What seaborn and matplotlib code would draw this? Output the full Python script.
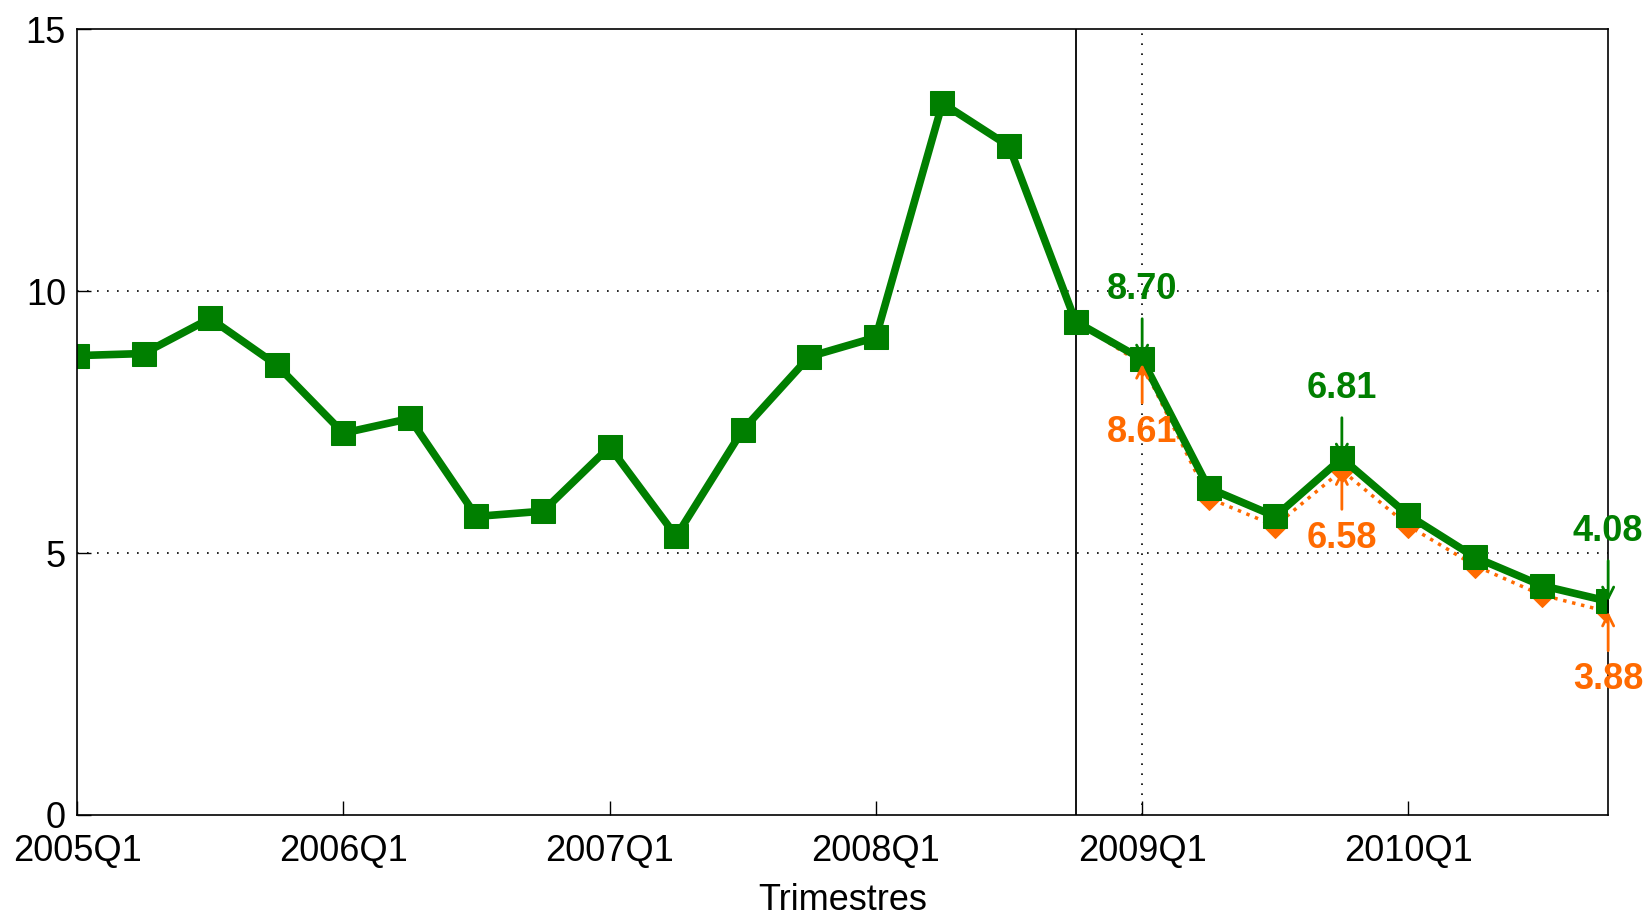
import numpy as np
import pandas as pd
import matplotlib
matplotlib.use('Agg')
import matplotlib.pyplot as plt
import seaborn as sns

# quarters 2005Q1 .. 2010Q4
quarters = [f'{y}Q{q}' for y in range(2005, 2011) for q in range(1, 5)]

green_vals = [8.77, 8.81, 9.48, 8.59, 7.29, 7.57, 5.70, 5.80, 7.03, 5.32, 7.35, 8.75,
              9.12, 13.59, 12.77, 9.42, 8.70, 6.24, 5.70, 6.81, 5.72, 4.92, 4.38, 4.08]
orange_vals = [8.77, 8.81, 9.48, 8.59, 7.29, 7.57, 5.70, 5.80, 7.03, 5.32, 7.35, 8.75,
               9.12, 13.59, 12.77, 9.42, 8.61, 6.05, 5.52, 6.58, 5.52, 4.76, 4.20, 3.88]

label_quarters = ['2009Q1', '2009Q4', '2010Q4']
tick_labels = ['2005Q1', '2006Q1', '2007Q1', '2008Q1', '2009Q1', '2010Q1']
cut_quarter = '2008Q4'

green = '#007f00'
orange = '#ff6a00'

df = pd.DataFrame({'idx': np.arange(len(quarters)), 'quarter': quarters,
                   'green': green_vals, 'orange': orange_vals})

sns.set_style('white')
plt.rcParams['font.family'] = ['Liberation Sans', 'DejaVu Sans']

fig = plt.figure(figsize=(16.46, 9.16), dpi=100)
ax = fig.add_axes([0.0468, 0.1103, 0.9302, 0.8577])

sns.lineplot(data=df, x='idx', y='orange', color=orange, linestyle=':', linewidth=2.5,
             marker='D', markersize=12, markeredgecolor=orange, ax=ax)
sns.lineplot(data=df, x='idx', y='green', color=green, linestyle='-', linewidth=5.5,
             marker='s', markersize=17, markeredgecolor=green, ax=ax)

ax.set_xlim(0, len(quarters) - 1)
ax.set_ylim(0, 15)
ax.set_yticks([0, 5, 10, 15])
ax.set_yticklabels(['0', '5', '10', '15'])
ax.set_xticks([quarters.index(t) for t in tick_labels])
ax.set_xticklabels(tick_labels)
ax.tick_params(direction='in', length=10, width=1, labelsize=26, colors='black',
               bottom=True, left=True)
ax.tick_params(axis='x', pad=14)
ax.tick_params(axis='y', pad=8)
ax.set_xlabel('Trimestres', fontsize=26, labelpad=10, color='black')
ax.set_ylabel('')

for s in ax.spines.values():
    s.set_color('black')
    s.set_linewidth(1.2)

# grid: dotted at 5 and 10, dotted vertical at 2009Q1
for yv in [5, 10]:
    ax.axhline(yv, color='black', linestyle=(0, (1, 5)), linewidth=1.2, zorder=0)
ax.axvline(quarters.index('2009Q1'), color='black', linestyle=(0, (1, 5)), linewidth=1.2, zorder=0)
ax.axvline(quarters.index(cut_quarter), color='black', linewidth=1.3, zorder=1)

for q in label_quarters:
    i = quarters.index(q)
    g = green_vals[i]
    o = orange_vals[i]
    ax.annotate(f'{g:.2f}', xy=(i, g), xytext=(i, g + 1.33), ha='center', va='center',
                color=green, fontsize=26, fontweight='bold',
                arrowprops=dict(arrowstyle='->', color=green, lw=2, shrinkA=6, shrinkB=0,
                                mutation_scale=20), annotation_clip=False)
    ax.annotate(f'{o:.2f}', xy=(i, o), xytext=(i, o - 1.3), ha='center', va='center',
                color=orange, fontsize=26, fontweight='bold',
                arrowprops=dict(arrowstyle='->', color=orange, lw=2, shrinkA=6, shrinkB=0,
                                mutation_scale=20), annotation_clip=False)

fig.savefig('out.png', dpi=100)
